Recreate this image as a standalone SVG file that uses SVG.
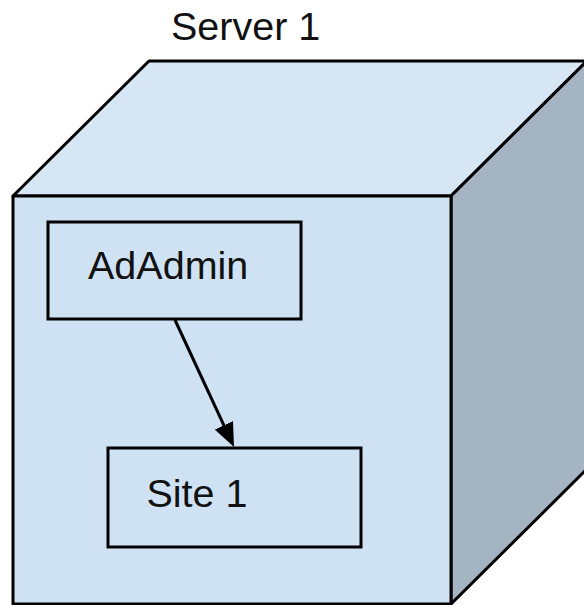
<svg xmlns="http://www.w3.org/2000/svg" width="584" height="605" viewBox="0 0 584 605">
  <style>
    .edge { stroke: #000; stroke-width: 3; stroke-linejoin: round; }
    .box { fill: #cfe2f3; stroke: #000; stroke-width: 3; }
    .lbl { font-family: "Liberation Sans", Arial, sans-serif; font-size: 39.5px; fill: #111; }
    .conn { stroke: #000; stroke-width: 3; fill: none; }
  </style>
  <defs>
    <marker id="arrow" viewBox="0 0 24 20" markerUnits="userSpaceOnUse" markerWidth="24" markerHeight="20" refX="5" refY="10" orient="auto">
      <path d="M0,0 L24,10 L0,20 Z" fill="#000"/>
    </marker>
  </defs>
  <rect width="584" height="605" fill="#fff"/>
  <g id="server1">
    <polygon class="edge" points="13,196 149,61 587,61 451,196" fill="#d7e6f5"/>
    <polygon class="edge" points="451,196 587,61 587,469 451,604" fill="#a5b4c3"/>
    <rect class="edge" x="13" y="196" width="438" height="408" fill="#cfe2f3"/>
    <text class="lbl" x="171" y="40">Server 1</text>
  </g>
  <g id="adadmin">
    <rect class="box" x="48" y="222" width="253" height="97"/>
    <text class="lbl" x="88" y="279">AdAdmin</text>
  </g>
  <g id="site1">
    <rect class="box" x="108" y="448" width="253" height="99"/>
    <text class="lbl" x="146.5" y="506.5">Site 1</text>
  </g>
  <g id="connectors">
    <line class="conn" x1="175" y1="320" x2="226" y2="429.8" marker-end="url(#arrow)"/>
  </g>
</svg>
